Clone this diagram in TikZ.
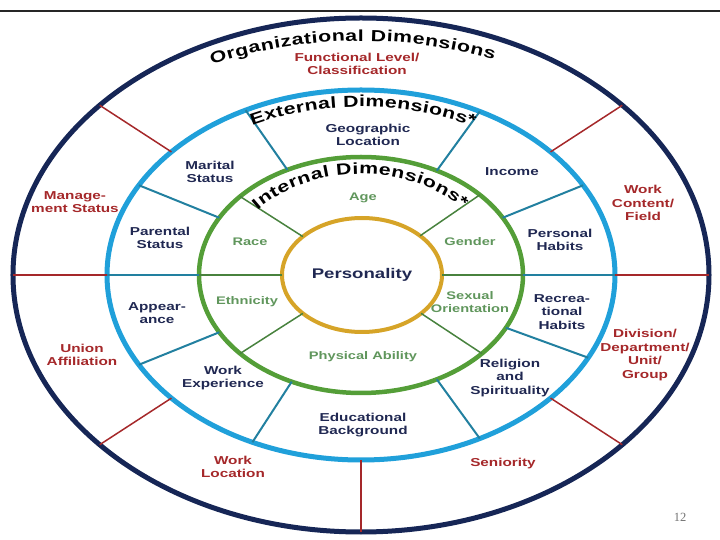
\documentclass[tikz,border=0pt]{standalone}
\usepackage{fontspec}
\setmainfont{Liberation Sans}[FakeStretch=1.33]
\newfontfamily\pagenumfont{Liberation Serif}
\usepackage{xcolor}
\usepackage{tikz}
\usetikzlibrary{shapes.geometric,decorations.text}

\definecolor{orgnavy}{RGB}{22,38,86}
\definecolor{orgred}{RGB}{165,40,42}
\definecolor{extblue}{RGB}{32,160,218}
\definecolor{extteal}{RGB}{34,128,160}
\definecolor{extnavy}{RGB}{32,40,82}
\definecolor{intgreen}{RGB}{84,158,56}
\definecolor{intline}{RGB}{72,130,62}
\definecolor{inttext}{RGB}{96,150,92}
\definecolor{persgold}{RGB}{214,164,40}

\begin{document}
\begin{tikzpicture}[
    x=1pt, y=1pt,
    ring/.style={draw, ellipse, inner sep=0pt, outer sep=0pt},
    orglabel/.style={text=orgred, font=\fontsize{11.5}{13.5}\selectfont\bfseries, align=center},
    extlabel/.style={text=extnavy, font=\fontsize{11.5}{13.5}\selectfont\bfseries, align=center},
    intlabel/.style={text=inttext, font=\fontsize{11}{12.5}\selectfont\bfseries, align=center},
    orgspoke/.style={draw=orgred, line width=1.5pt},
    extspoke/.style={draw=extteal, line width=2pt},
    intspoke/.style={draw=intline, line width=1.5pt},
    ringtitle/.style={decorate, decoration={text along path, text align={fit to path},
        text={|\fontsize{16}{18}\selectfont\bfseries|#1}}}
]
    \useasboundingbox (-361,-265) rectangle (359,275);
    \draw[line width=1.5pt, black!85] (-361,264) -- (359,264);

    % the four rings
    \node[ring, draw=orgnavy, line width=5pt, minimum width=696pt, minimum height=514pt] (org) at (0,0) {};
    \node[ring, draw=extblue, line width=5pt, minimum width=508pt, minimum height=370pt] (ext) at (0,0) {};
    \node[ring, draw=intgreen, line width=4.5pt, minimum width=324pt, minimum height=236pt] (int) at (0,0) {};
    \node[ring, draw=persgold, line width=4pt, minimum width=160pt, minimum height=114pt,
        text=extnavy, font=\fontsize{14}{16}\selectfont\bfseries] (pers) at (1,0) {Personality};

    % spokes
    \foreach \a in {0,33,147,180,213,270,327}
        \draw[orgspoke] (org.\a) -- (ext.\a);
    \foreach \a in {0,22,54,125,158,180,202,237,306,340}
        \draw[extspoke] (ext.\a) -- (int.\a);
    \foreach \a in {0,34,147,180,213,327}
        \draw[intspoke] (int.\a) -- (pers.\a);

    % ring titles
    \path[ringtitle={Organizational Dimensions}] (116:340pt and 234pt)
        arc[start angle=116, end angle=67, x radius=340pt, y radius=234pt];
    \path[ringtitle={External Dimensions*}] (117:240pt and 168pt)
        arc[start angle=117, end angle=62, x radius=240pt, y radius=168pt];
    \path[ringtitle={Internal Dimensions*}] (140:135pt and 101pt)
        arc[start angle=140, end angle=41, x radius=135pt, y radius=101pt];

    % organizational
    \node[orglabel] (funclevel) at (-4,211) {Functional Level/\\Classification};
    \node[orglabel] (content) at (282,72) {Work\\Content/\\Field};
    \node[orglabel] (division) at (284,-80) {Division/\\Department/\\Unit/\\Group};
    \node[orglabel] (senior) at (142,-189) {Seniority};
    \node[orglabel] (workloc) at (-128,-192) {Work\\Location};
    \node[orglabel] (union) at (-279,-80) {Union\\Affiliation};
    \node[orglabel] (mgmt) at (-286,73) {Manage-\\ment Status};

    % external
    \node[extlabel] (geo) at (7,140) {Geographic\\Location};
    \node[extlabel] (income) at (151,103) {Income};
    \node[extlabel] (habits) at (199,35) {Personal\\Habits};
    \node[extlabel] (recrea) at (201,-37) {Recrea-\\tional\\Habits};
    \node[extlabel] (religion) at (149,-103) {Religion\\and\\Spirituality};
    \node[extlabel] (educ) at (2,-150) {Educational\\Background};
    \node[extlabel] (workexp) at (-138,-103) {Work\\Experience};
    \node[extlabel] (appear) at (-204,-38) {Appear-\\ance};
    \node[extlabel] (parental) at (-201,37) {Parental\\Status};
    \node[extlabel] (marital) at (-151,103) {Marital\\Status};

    % internal
    \node[intlabel] (age) at (2,77) {Age};
    \node[intlabel] (gender) at (109,33) {Gender};
    \node[intlabel] (sexual) at (109,-27) {Sexual\\Orientation};
    \node[intlabel] (physical) at (2,-82) {Physical Ability};
    \node[intlabel] (ethnic) at (-114,-27) {Ethnicity};
    \node[intlabel] (race) at (-111,33) {Race};

    \node[text=black!55, font=\pagenumfont\fontsize{12.5}{14}\selectfont] (pagenum) at (319,-242) {12};
\end{tikzpicture}
\end{document}
